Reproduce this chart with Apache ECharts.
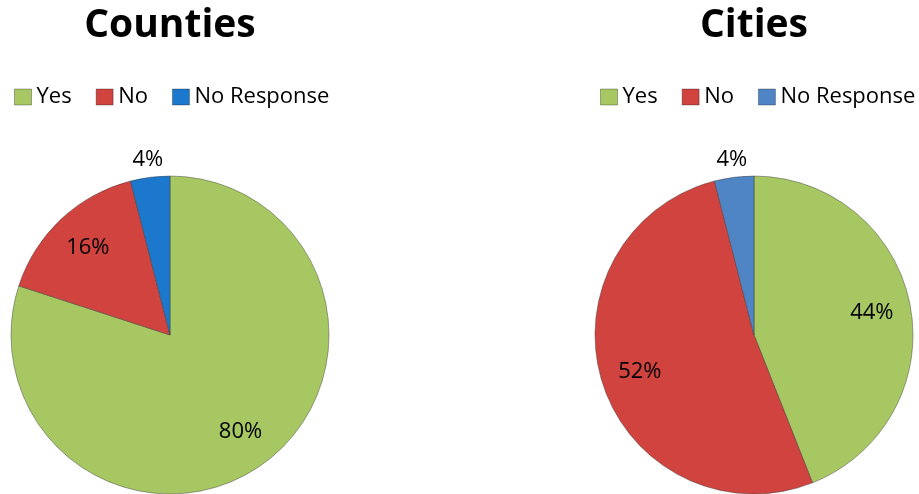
<!DOCTYPE html>
<html>
<head>
<meta charset="utf-8">
<script src="https://cdn.jsdelivr.net/npm/echarts@6/dist/echarts.min.js"></script>
<style>
html,body{margin:0;padding:0;background:#fff;}
#chart{width:919px;height:494px;}
</style>
</head>
<body>
<div id="chart"></div>
<script>
// ---- data ----
var categories = ['Yes', 'No', 'No Response'];
var countiesValues = [80, 16, 4];
var citiesValues = [44, 52, 4];
var titles = ['Counties', 'Cities'];
var countiesColors = ['#A6C761', '#D0433F', '#1B78CC'];
var citiesColors = ['#A6C761', '#D0433F', '#5085C5'];

var FONT = '"Open Sans", "Noto Sans", sans-serif';
var chart = echarts.init(document.getElementById('chart'));

function visiblePie(values, colors, center) {
  return {
    type: 'pie',
    center: center,
    radius: [0, 159],
    startAngle: 90,
    clockwise: true,
    silent: true,
    animation: false,
    label: {show: false},
    labelLine: {show: false},
    emphasis: {disabled: true},
    itemStyle: {borderColor: 'rgba(60,60,60,0.45)', borderWidth: 1},
    data: categories.map(function (c, i) {
      return {name: c, value: values[i], itemStyle: {color: colors[i]}};
    })
  };
}

function labelPie(values, center, radius, showRule) {
  return {
    type: 'pie',
    center: center,
    radius: radius,
    startAngle: 90,
    clockwise: true,
    silent: true,
    animation: false,
    z: 5,
    itemStyle: {color: 'rgba(0,0,0,0)', borderWidth: 0},
    emphasis: {disabled: true},
    labelLine: {show: false},
    label: {
      position: 'inside',
      formatter: '{c}%',
      fontFamily: FONT,
      fontSize: 22,
      color: '#000'
    },
    data: values.map(function (v) {
      return {value: v, label: {show: showRule(v)}};
    })
  };
}

function legendFor(colors, left) {
  return {
    left: left,
    top: 86,
    width: 330,
    padding: 0,
    orient: 'horizontal',
    itemWidth: 17,
    itemHeight: 16,
    itemGap: 24,
    icon: 'rect',
    selectedMode: false,
    textStyle: {fontFamily: FONT, fontSize: 22, color: '#000'},
    data: categories.map(function (c, i) {
      return {name: c, itemStyle: {color: colors[i], borderColor: 'rgba(0,0,0,0.3)', borderWidth: 1}};
    })
  };
}

var big = function (v) { return v >= 10; };
var small = function (v) { return v < 10; };
var cL = [170, 335], cR = [754, 335];

chart.setOption({
  backgroundColor: '#fff',
  animation: false,
  title: [
    {text: titles[0], left: 170, top: 6, textAlign: 'center', padding: 0,
     textStyle: {fontFamily: FONT, fontWeight: 'bold', fontSize: 39, color: '#000'}},
    {text: titles[1], left: 754, top: 6, textAlign: 'center', padding: 0,
     textStyle: {fontFamily: FONT, fontWeight: 'bold', fontSize: 39, color: '#000'}}
  ],
  legend: [legendFor(countiesColors, 14), legendFor(citiesColors, 600)],
  series: [
    visiblePie(countiesValues, countiesColors, cL),
    visiblePie(citiesValues, citiesColors, cR),
    labelPie(countiesValues, cL, [78, 156], big),
    labelPie(countiesValues, cL, [166, 181], small),
    labelPie(citiesValues, cR, [78, 156], big),
    labelPie(citiesValues, cR, [166, 181], small)
  ]
});
</script>
</body>
</html>
